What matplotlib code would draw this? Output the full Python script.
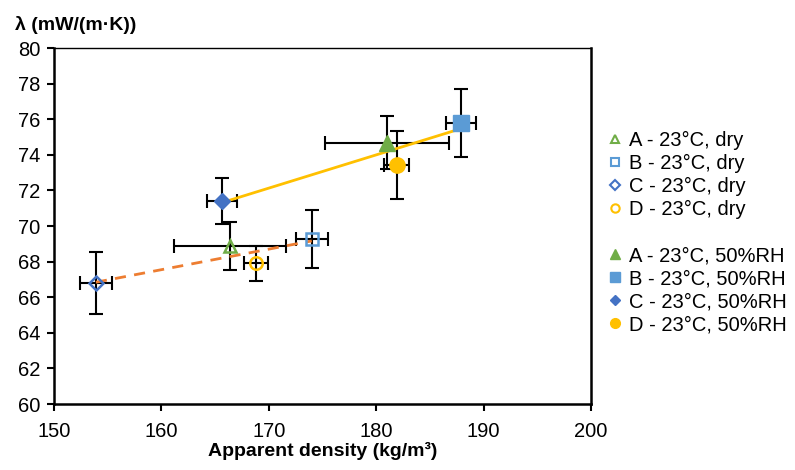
import matplotlib
matplotlib.use("Agg")
import matplotlib.pyplot as plt
from matplotlib.lines import Line2D
import numpy as np

plt.rcParams['font.family'] = ['Liberation Sans', 'DejaVu Sans']

# samples and conditions
labels = ['A', 'B', 'C', 'D']
colors = ['#70AD47', '#5B9BD5', '#4472C4', '#FFC000']
markers = ['^', 's', 'D', 'o']

# dry state
dry_x = [166.4, 174.0, 153.9, 168.8]
dry_y = [68.9, 69.27, 66.78, 67.9]
dry_xerr = [5.2, 1.5, 1.5, 1.1]
dry_yerr = [1.35, 1.65, 1.75, 1.0]

# 50 %RH
wet_x = [181.0, 187.9, 165.6, 181.9]
wet_y = [74.68, 75.8, 71.4, 73.43]
wet_xerr = [5.8, 1.4, 1.4, 1.2]
wet_yerr = [1.5, 1.9, 1.3, 1.9]

fig = plt.figure(figsize=(7.95, 4.70), dpi=100)
ax = fig.add_axes([54/795, 1 - 404/470, (591-54)/795, (404-48)/470])

eb = dict(fmt='none', ecolor='black', elinewidth=1.5, capsize=5, capthick=1.5, zorder=2)
ax.errorbar(dry_x, dry_y, xerr=dry_xerr, yerr=dry_yerr, **eb)
ax.errorbar(wet_x, wet_y, xerr=wet_xerr, yerr=wet_yerr, **eb)

# linear trendlines (Excel style)
k, b = np.polyfit(dry_x, dry_y, 1)
xs = np.array([min(dry_x), max(dry_x)])
ax.plot(xs, k*xs + b, color='#ED7D31', lw=2, dashes=(4, 3), zorder=3)
k, b = np.polyfit(wet_x, wet_y, 1)
xs = np.array([min(wet_x), max(wet_x)])
ax.plot(xs, k*xs + b, color='#FFC000', lw=2, zorder=3)

handles = []
for i in range(4):
    ms = 9 if markers[i] != 'D' else 7
    ax.plot(dry_x[i], dry_y[i], marker=markers[i], ms=ms, mfc='none', mec=colors[i],
            mew=1.8, ls='none', zorder=4)
    handles.append(Line2D([], [], marker=markers[i], ms=6 if markers[i] != 'D' else 5,
                          mfc='none', mec=colors[i], mew=1.5, ls='none',
                          label=labels[i] + ' - 23°C, dry'))
handles.append(Line2D([], [], ls='none', label=' '))
for i in range(4):
    ms = 11 if markers[i] != 'D' else 8
    ax.plot(wet_x[i], wet_y[i], marker=markers[i], ms=ms, color=colors[i], mec=colors[i],
            ls='none', zorder=4)
    handles.append(Line2D([], [], marker=markers[i], ms=7 if markers[i] != 'D' else 5,
                          color=colors[i], ls='none',
                          label=labels[i] + ' - 23°C, 50%RH'))

ax.set_xlim(150, 200)
ax.set_ylim(60, 80)
ax.set_xticks(range(150, 201, 10))
ax.set_yticks(range(60, 81, 2))
ax.tick_params(direction='out', length=5, width=1.5, labelsize=14.5, pad=5)
ax.tick_params(axis='x', pad=8)
for s in ['left', 'bottom', 'right']:
    ax.spines[s].set_linewidth(1.8)
ax.spines['top'].set_linewidth(1.0)

ax.set_xlabel('Apparent density (kg/m³)', fontsize=14, fontweight='bold', labelpad=1)
fig.text(15/795, 1 - 25/470, 'λ (mW/(m·K))', fontsize=14, fontweight='bold',
         ha='left', va='center')

ax.legend(handles=handles, loc='upper left', bbox_to_anchor=(601/795, 1 - 123/470),
          bbox_transform=fig.transFigure, frameon=False, fontsize=14.5,
          handlelength=0.6, handletextpad=0.4, labelspacing=0.2, borderaxespad=0)

fig.savefig('out.png', dpi=100)
